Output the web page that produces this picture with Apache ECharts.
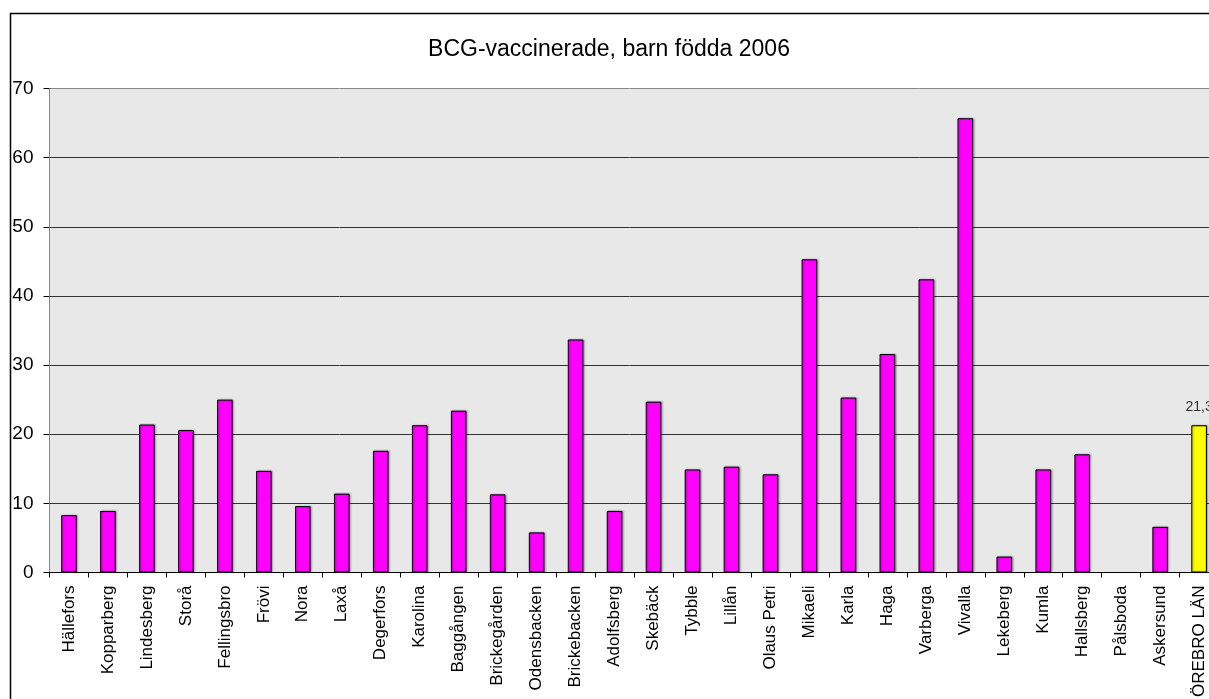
<!DOCTYPE html>
<html>
<head>
<meta charset="utf-8">
<script src="https://cdn.jsdelivr.net/npm/echarts@6/dist/echarts.min.js"></script>
<style>
  html, body { margin: 0; padding: 0; background: #ffffff; }
  #chart { width: 1209px; height: 699px; }
</style>
</head>
<body>
<div id="chart"></div>
<script>
// Kommuner / vårdcentraler
const categories = [
  'Hällefors', 'Kopparberg', 'Lindesberg', 'Storå', 'Fellingsbro', 'Frövi',
  'Nora', 'Laxå', 'Degerfors', 'Karolina', 'Baggången', 'Brickegården',
  'Odensbacken', 'Brickebacken', 'Adolfsberg', 'Skebäck', 'Tybble', 'Lillån',
  'Olaus Petri', 'Mikaeli', 'Karla', 'Haga', 'Varberga', 'Vivalla',
  'Lekeberg', 'Kumla', 'Hallsberg', 'Pålsboda', 'Askersund', 'ÖREBRO LÄN'
];

// Andel BCG-vaccinerade (%), barn födda 2006
const values = [
  8.3, 8.9, 21.4, 20.6, 25.0, 14.7,
  9.6, 11.4, 17.6, 21.3, 23.4, 11.3,
  5.8, 33.7, 8.9, 24.7, 14.9, 15.3,
  14.2, 45.3, 25.3, 31.6, 42.4, 65.7,
  2.3, 14.9, 17.1, null, 6.6, 21.3
];

// Länets total visas gul med värdeetikett
const totalCategory = 'ÖREBRO LÄN';

const yTicks = [0, 10, 20, 30, 40, 50, 60, 70];

const FONT = '"Liberation Sans", Arial, sans-serif';

const seriesData = categories.map((c, i) => {
  const isTotal = c === totalCategory;
  return {
    value: values[i],
    itemStyle: { color: isTotal ? '#FFFF00' : '#FF00FF' },
    label: isTotal ? {
      show: true,
      position: 'top',
      distance: 11,
      color: '#333333',
      fontSize: 14,
      fontFamily: FONT,
      formatter: p => String(p.value).replace('.', ',')
    } : { show: false }
  };
});

const chart = echarts.init(document.getElementById('chart'), null, { renderer: 'canvas' });

chart.setOption({
  backgroundColor: '#ffffff',
  animation: false,
  title: {
    text: 'BCG-vaccinerade, barn födda 2006',
    left: 604,
    top: 33,
    textAlign: 'center',
    textStyle: { fontFamily: FONT, fontSize: 23, fontWeight: 'normal', color: '#000000' }
  },
  graphic: [{
    type: 'rect',
    left: 8,
    top: 11,
    shape: { x: 0, y: 0, width: 1400, height: 900 },
    style: { fill: 'none', stroke: '#000000', lineWidth: 1.5 },
    silent: true,
    z: 100
  }],
  grid: {
    left: 49.5,
    top: 88.5,
    width: categories.length * 38.97,
    bottom: 126.5,
    show: true,
    backgroundColor: '#E8E8E8',
    borderWidth: 0,
    containLabel: false,
    outerBoundsMode: 'none'
  },
  xAxis: {
    type: 'category',
    data: categories,
    boundaryGap: true,
    axisLine: { show: true, lineStyle: { color: '#000000', width: 1 } },
    axisTick: { show: true, length: 5, lineStyle: { color: '#000000' } },
    axisLabel: {
      rotate: 90,
      interval: 0,
      margin: 13,
      fontSize: 17,
      fontFamily: FONT,
      color: '#000000'
    }
  },
  yAxis: {
    type: 'value',
    min: 0,
    max: 70,
    interval: 10,
    axisLine: { show: true, lineStyle: { color: '#888888', width: 1 } },
    axisTick: { show: true, length: 6, lineStyle: { color: '#000000' } },
    axisLabel: {
      margin: 16,
      fontSize: 19,
      fontFamily: FONT,
      color: '#000000',
      formatter: v => (yTicks.includes(v) ? String(v) : '')
    },
    splitLine: {
      show: true,
      lineStyle: {
        color: ['#000000', '#333333', '#333333', '#333333', '#333333', '#333333', '#333333', '#888888'],
        width: 1
      }
    }
  },
  series: [{
    type: 'bar',
    data: seriesData,
    barCategoryGap: '60%',
    itemStyle: {
      borderColor: '#000000',
      borderWidth: 1,
      shadowColor: 'rgba(0,0,0,0.35)',
      shadowBlur: 2,
      shadowOffsetX: 1,
      shadowOffsetY: 0
    }
  }]
});
</script>
</body>
</html>
